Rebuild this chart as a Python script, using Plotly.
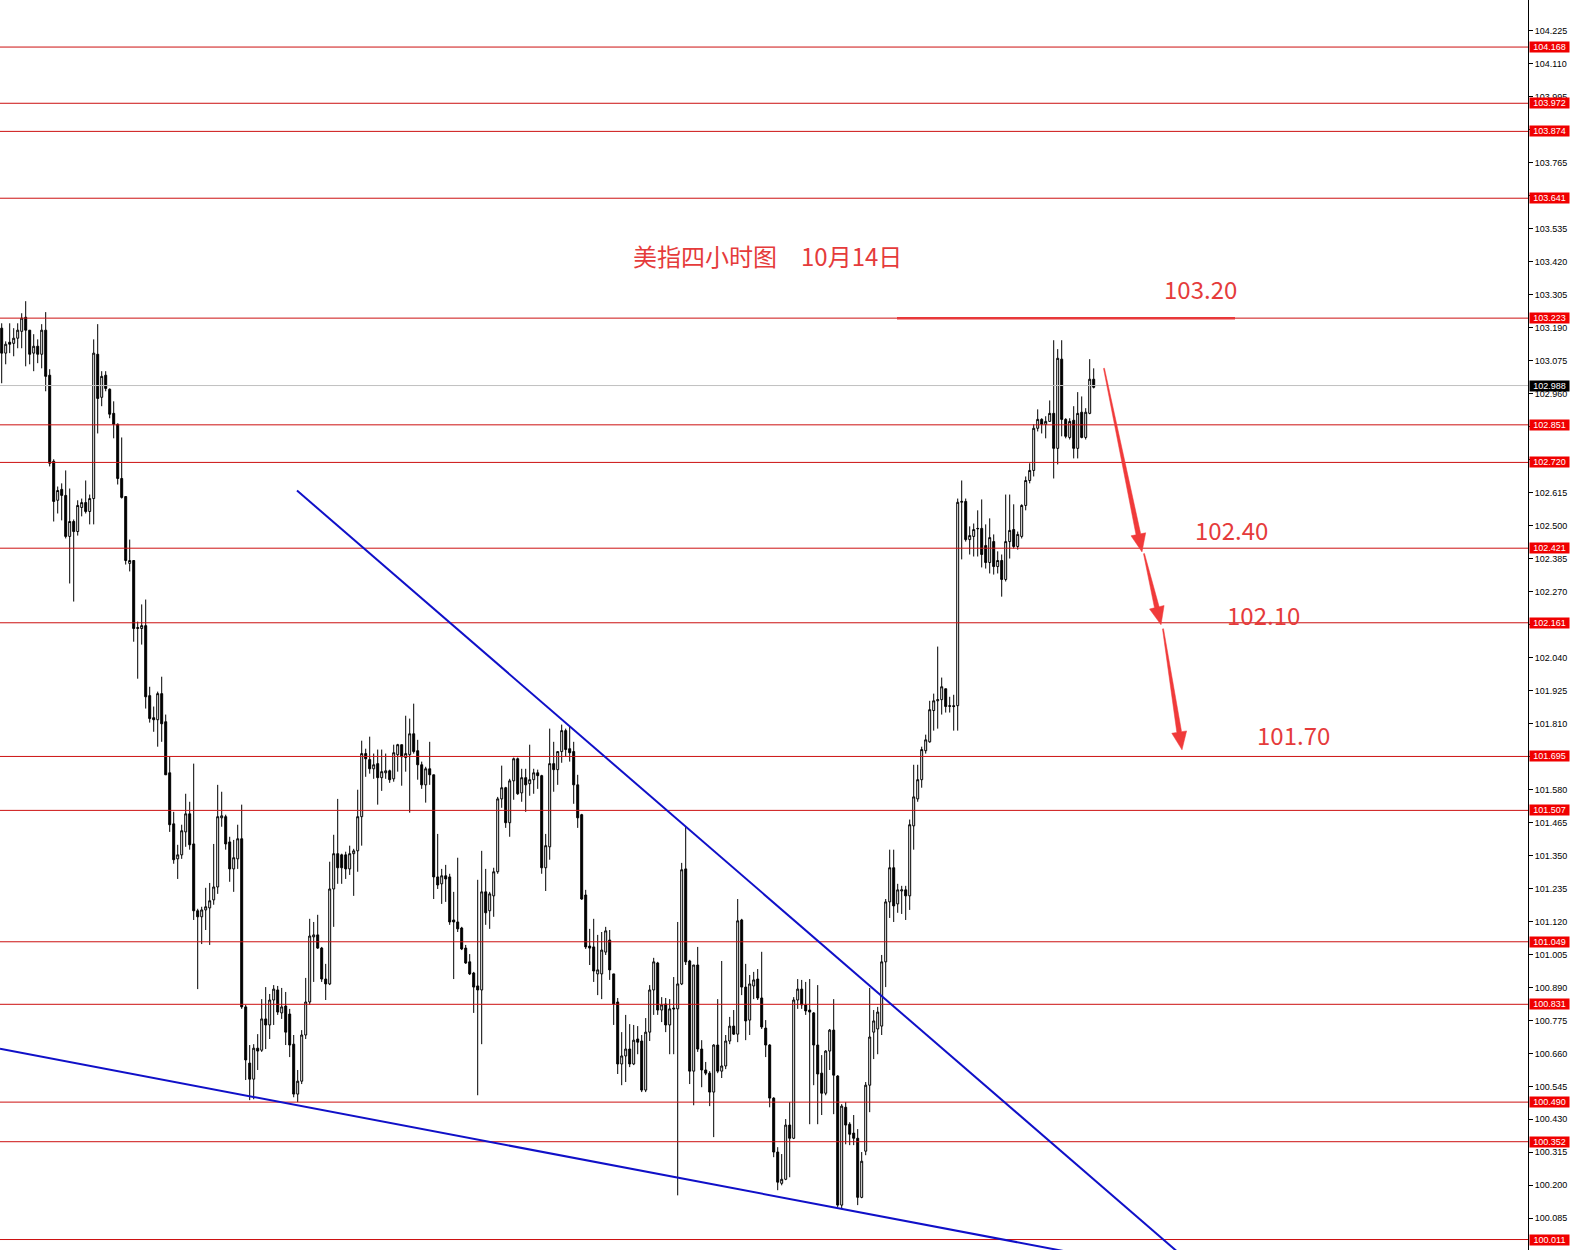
import math
import plotly.graph_objects as go

# ---------------- data ----------------
opens = [
103.188,103.101,103.139,103.135,103.153,103.177,103.226,103.181,103.101,103.125,
103.097,103.181,103.024,102.724,102.588,102.626,102.605,102.462,102.514,102.479,
102.563,102.580,102.549,102.594,103.097,102.947,103.024,102.975,102.891,102.853,
102.664,102.601,102.368,102.378,102.141,102.141,102.151,101.907,101.830,101.823,
101.914,101.816,101.638,101.460,101.338,101.352,101.432,101.495,101.390,101.157,
101.136,101.160,101.167,101.195,101.240,101.481,101.485,101.397,101.303,101.338,
101.408,100.822,100.626,100.570,100.678,100.671,100.780,100.759,100.846,100.881,
100.801,100.825,100.797,100.692,100.518,100.563,100.724,100.839,101.066,101.073,
101.027,100.919,100.902,101.233,101.356,101.352,101.352,101.303,101.356,101.366,
101.485,101.705,101.684,101.652,101.670,101.621,101.638,101.645,101.617,101.701,
101.736,101.691,101.701,101.774,101.715,101.666,101.596,101.652,101.631,101.275,
101.251,101.279,101.275,101.125,101.118,101.097,101.027,100.979,100.940,100.895,
100.881,101.223,101.157,101.209,101.293,101.547,101.586,101.464,101.610,101.687,
101.568,101.621,101.600,101.614,101.638,101.628,101.307,101.380,101.670,101.649,
101.712,101.785,101.722,101.712,101.596,101.492,101.212,101.034,101.031,100.937,
100.937,101.013,101.055,100.937,100.839,100.623,100.651,100.675,100.623,100.710,
100.703,100.532,100.734,100.881,100.975,100.811,100.832,100.759,100.818,100.815,
100.902,101.303,100.982,100.598,100.968,100.675,100.602,100.591,100.525,100.689,
100.598,100.616,100.703,100.755,100.727,101.125,100.891,100.776,100.895,100.919,
100.853,100.748,100.689,100.504,100.316,100.207,100.221,100.410,100.364,100.846,
100.884,100.829,100.811,100.801,100.689,100.591,100.521,100.668,100.741,100.581,
100.131,100.472,100.413,100.382,100.364,100.158,100.319,100.549,100.734,100.745,
100.755,100.979,101.188,101.307,101.181,101.226,101.230,101.209,101.453,101.547,
101.614,101.715,101.746,101.855,101.889,101.893,101.931,101.872,101.872,101.872,
102.581,102.584,102.451,102.462,102.490,102.490,102.430,102.371,102.444,102.357,
102.378,102.312,102.444,102.486,102.427,102.462,102.570,102.657,102.692,102.839,
102.870,102.853,102.863,102.891,102.769,103.080,102.870,102.807,102.867,102.769,
102.895,102.807,102.891,103.010,
]
highs = [
103.205,103.142,103.205,103.188,103.205,103.240,103.282,103.181,103.167,103.149,
103.202,103.244,103.045,102.731,102.636,102.647,102.692,102.629,102.521,102.588,
102.594,102.657,102.608,103.149,103.202,103.038,103.038,102.978,102.933,102.856,
102.807,102.601,102.451,102.378,102.165,102.225,102.242,101.938,101.869,101.921,
101.973,101.841,101.694,101.502,101.387,101.457,101.565,101.537,101.670,101.164,
101.171,101.237,101.254,101.390,101.596,101.572,101.492,101.415,101.404,101.457,
101.527,100.829,100.689,100.692,100.727,100.849,100.891,100.867,100.898,100.895,
100.888,100.874,100.815,100.724,100.602,100.741,100.923,101.129,101.118,101.143,
101.031,100.972,101.328,101.422,101.547,101.356,101.363,101.384,101.373,101.579,
101.750,101.722,101.764,101.705,101.719,101.719,101.705,101.649,101.736,101.739,
101.736,101.837,101.827,101.879,101.753,101.677,101.659,101.746,101.631,101.425,
101.303,101.317,101.286,101.223,101.342,101.101,101.038,101.006,100.944,101.265,
101.366,101.303,101.223,101.307,101.554,101.663,101.589,101.617,101.691,101.691,
101.652,101.652,101.736,101.652,101.649,101.631,101.425,101.792,101.746,101.712,
101.806,101.792,101.799,101.746,101.631,101.495,101.230,101.094,101.129,101.073,
101.083,101.101,101.090,100.937,100.853,100.734,100.794,100.762,100.759,100.755,
100.724,100.783,100.898,100.993,100.979,100.856,100.853,100.849,100.926,101.118,
101.324,101.450,100.986,100.968,101.031,100.706,100.630,100.598,100.692,100.849,
100.982,100.724,100.787,100.811,101.198,101.129,100.972,100.933,100.944,100.954,
101.014,100.776,100.692,100.507,100.333,100.309,100.431,100.490,100.856,100.919,
100.916,100.909,100.919,100.804,100.898,100.654,100.671,100.745,100.849,100.584,
100.483,100.490,100.420,100.445,100.396,100.316,100.560,100.888,100.811,100.822,
101.003,101.198,101.370,101.370,101.251,101.244,101.244,101.475,101.666,101.666,
101.729,101.771,101.889,101.914,102.078,101.970,101.931,101.903,101.910,102.594,
102.657,102.594,102.497,102.507,102.553,102.591,102.504,102.525,102.469,102.410,
102.399,102.608,102.608,102.574,102.479,102.574,102.671,102.717,102.853,102.905,
102.874,102.881,102.936,103.146,103.115,103.146,102.874,102.874,102.916,102.965,
102.950,102.909,103.080,103.048,
]
lows = [
102.996,103.062,103.101,103.090,103.118,103.118,103.055,103.062,103.038,103.066,
103.048,102.968,102.706,102.514,102.542,102.518,102.455,102.298,102.235,102.465,
102.532,102.542,102.504,102.504,102.821,102.916,102.968,102.874,102.804,102.643,
102.594,102.364,102.340,102.095,101.966,102.085,101.862,101.813,101.781,101.729,
101.746,101.631,101.432,101.321,101.268,101.338,101.380,101.370,101.125,100.884,
101.041,101.090,101.038,101.178,101.216,101.450,101.370,101.258,101.223,101.303,
100.815,100.567,100.497,100.500,100.602,100.665,100.675,100.710,100.759,100.794,
100.780,100.689,100.647,100.507,100.490,100.553,100.710,100.829,100.909,101.024,
100.909,100.846,100.898,101.101,101.251,101.251,101.268,101.282,101.209,101.293,
101.384,101.624,101.635,101.617,101.527,101.575,101.617,101.603,101.607,101.642,
101.593,101.642,101.499,101.705,101.614,101.582,101.534,101.596,101.198,101.233,
101.181,101.188,101.108,100.919,101.083,101.020,100.972,100.933,100.801,100.514,
100.692,101.108,101.094,101.136,101.286,101.516,101.446,101.415,101.544,101.561,
101.537,101.502,101.558,101.565,101.582,101.286,101.226,101.335,101.572,101.596,
101.673,101.694,101.677,101.530,101.446,101.195,101.024,100.968,100.909,100.863,
100.849,101.003,100.916,100.759,100.588,100.549,100.560,100.612,100.619,100.657,
100.525,100.525,100.703,100.794,100.794,100.769,100.734,100.657,100.657,100.165,
100.898,100.968,100.553,100.479,100.665,100.542,100.584,100.476,100.368,100.591,
100.574,100.605,100.692,100.724,100.699,100.863,100.706,100.724,100.849,100.846,
100.745,100.647,100.472,100.298,100.183,100.200,100.218,100.228,100.361,100.815,
100.815,100.794,100.413,100.549,100.413,100.445,100.514,100.602,100.448,100.124,
100.117,100.343,100.340,100.340,100.131,100.155,100.305,100.455,100.640,100.657,
100.724,100.891,101.132,101.118,101.150,101.146,101.125,101.160,101.370,101.537,
101.586,101.705,101.743,101.785,101.792,101.841,101.848,101.848,101.785,101.785,
102.382,102.444,102.399,102.392,102.392,102.354,102.350,102.333,102.329,102.333,
102.252,102.305,102.385,102.420,102.416,102.455,102.553,102.647,102.671,102.828,
102.821,102.804,102.863,102.664,102.713,102.811,102.804,102.800,102.734,102.734,
102.804,102.800,102.888,102.978,
]
closes = [
103.101,103.132,103.132,103.153,103.181,103.223,103.181,103.097,103.125,103.097,
103.181,103.020,102.717,102.584,102.622,102.605,102.462,102.514,102.479,102.570,
102.580,102.549,102.594,103.101,102.943,103.020,102.978,102.888,102.853,102.664,
102.598,102.378,102.378,102.141,102.144,102.151,101.903,101.827,101.823,101.914,
101.809,101.631,101.457,101.335,101.352,101.436,101.495,101.387,101.157,101.136,
101.160,101.171,101.192,101.240,101.485,101.488,101.390,101.303,101.342,101.408,
100.822,100.637,100.570,100.678,100.668,100.780,100.759,100.846,100.884,100.804,
100.822,100.734,100.689,100.518,100.563,100.724,100.839,101.069,101.073,101.027,
100.919,100.902,101.233,101.356,101.307,101.307,101.303,101.356,101.366,101.485,
101.705,101.687,101.652,101.666,101.621,101.642,101.645,101.614,101.708,101.736,
101.694,101.705,101.774,101.712,101.666,101.596,101.652,101.631,101.275,101.247,
101.279,101.268,101.118,101.118,101.094,101.024,100.975,100.937,100.891,100.881,
101.223,101.150,101.216,101.293,101.547,101.586,101.464,101.610,101.687,101.565,
101.621,101.596,101.614,101.638,101.628,101.307,101.384,101.670,101.649,101.712,
101.785,101.719,101.708,101.596,101.481,101.198,101.031,101.027,100.947,100.951,
101.020,101.087,100.951,100.832,100.623,100.651,100.675,100.623,100.706,100.699,
100.532,100.734,100.881,100.979,100.811,100.829,100.759,100.815,100.815,100.902,
101.300,100.979,100.598,100.968,100.675,100.602,100.591,100.525,100.689,100.598,
100.616,100.703,100.755,100.727,101.122,100.891,100.773,100.902,100.916,100.853,
100.752,100.689,100.504,100.316,100.211,100.221,100.410,100.364,100.846,100.884,
100.829,100.808,100.804,100.689,100.588,100.521,100.668,100.741,100.584,100.131,
100.476,100.410,100.378,100.364,100.158,100.284,100.549,100.717,100.773,100.804,
100.979,101.188,101.307,101.174,101.230,101.230,101.209,101.457,101.554,101.614,
101.719,101.753,101.858,101.889,101.893,101.938,101.869,101.870,101.869,102.581,
102.584,102.451,102.465,102.486,102.489,102.399,102.371,102.458,102.357,102.378,
102.312,102.444,102.483,102.427,102.469,102.570,102.657,102.692,102.839,102.870,
102.853,102.863,102.891,102.769,103.083,102.870,102.811,102.863,102.769,102.891,
102.807,102.895,103.010,102.982,
]

level_values = [104.168, 103.972, 103.874, 103.641, 103.223, 102.851, 102.720,
                102.421, 102.161, 101.695, 101.507, 101.049, 100.831, 100.490,
                100.352, 100.011]
last_price = 102.988

tick_labels = ["104.225", "104.110", "103.995", "103.880", "103.765", "103.650",
               "103.535", "103.420", "103.305", "103.190", "103.075", "102.960",
               "102.845", "102.730", "102.615", "102.500", "102.385", "102.270",
               "102.155", "102.040", "101.925", "101.810", "101.695", "101.580",
               "101.465", "101.350", "101.235", "101.120", "101.005", "100.890",
               "100.775", "100.660", "100.545", "100.430", "100.315", "100.200",
               "100.085"]

title_left = "美指四小时图"
title_right = "10月14日"
target_labels = ["103.20", "102.40", "102.10", "101.70"]

# trend lines: (bar index, price) endpoints
upper_trend = [(73.825, 102.622), (293.8, 99.97)]
lower_trend = [(-0.425, 100.676), (265.8, 99.97)]
resistance_seg = [(223.825, 103.223), (308.325, 103.223)]
# arrows: start and tip (bar index, price)
arrows = [((275.575, 103.048), (285.075, 102.408)),
          ((285.575, 102.402), (289.825, 102.154)),
          ((290.325, 102.140), (295.075, 101.718))]

n = min(len(opens), len(highs), len(lows), len(closes))
xs = list(range(n))

# ---------------- layout geometry ----------------
W, H = 1570, 1250
PLOT_W = 1528
X_RANGE = [-0.425, PLOT_W / 4 - 0.425]
Y_RANGE = [99.9745, 104.332]

def to_px(i, p):
    px = (i - X_RANGE[0]) / (X_RANGE[1] - X_RANGE[0]) * PLOT_W
    py = (Y_RANGE[1] - p) / (Y_RANGE[1] - Y_RANGE[0]) * H
    return px, py

def px_paper(px, py):
    return px / PLOT_W, 1 - py / H

fig = go.Figure()
fig.add_trace(go.Candlestick(
    x=xs, open=opens[:n], high=highs[:n], low=lows[:n], close=closes[:n],
    increasing=dict(line=dict(color="black", width=1), fillcolor="white"),
    decreasing=dict(line=dict(color="black", width=1), fillcolor="black"),
    whiskerwidth=0, hoverinfo="skip", showlegend=False,
))

shapes = []
LEVEL_COLOR = "#cc1010"
for v in level_values:
    shapes.append(dict(type="line", xref="paper", x0=0, x1=1, yref="y", y0=v, y1=v,
                       line=dict(color=LEVEL_COLOR, width=1)))
shapes.append(dict(type="line", xref="paper", x0=0, x1=1, yref="y", y0=last_price, y1=last_price,
                   line=dict(color="#c0c0c0", width=1)))
for seg in (upper_trend, lower_trend):
    shapes.append(dict(type="line", xref="x", yref="y", x0=seg[0][0], y0=seg[0][1],
                       x1=seg[1][0], y1=seg[1][1], line=dict(color="#1010c8", width=2)))
shapes.append(dict(type="line", xref="x", yref="y", x0=resistance_seg[0][0], y0=resistance_seg[0][1],
                   x1=resistance_seg[1][0], y1=resistance_seg[1][1], line=dict(color="#e8383a", width=2.5)))

ARROW_COLOR = "#f03a3a"
for (s, t) in arrows:
    x0, y0 = to_px(*s)
    x1, y1 = to_px(*t)
    dx, dy = x1 - x0, y1 - y0
    L = math.hypot(dx, dy)
    ux, uy = dx / L, dy / L
    nx, ny = -uy, ux
    head_len, head_half, w0, w1 = 18, 7.5, 0.5, 2.4
    bx, by = x1 - ux * head_len, y1 - uy * head_len
    pts = [(x0 + nx * w0, y0 + ny * w0), (bx + nx * w1, by + ny * w1),
           (bx + nx * head_half, by + ny * head_half), (x1, y1),
           (bx - nx * head_half, by - ny * head_half), (bx - nx * w1, by - ny * w1),
           (x0 - nx * w0, y0 - ny * w0)]
    pp = [px_paper(a, b) for a, b in pts]
    path = "M " + " L ".join(f"{a:.5f},{b:.5f}" for a, b in pp) + " Z"
    shapes.append(dict(type="path", xref="paper", yref="paper", path=path,
                       fillcolor=ARROW_COLOR, line=dict(color=ARROW_COLOR, width=0.5)))

annotations = []
for v in level_values:
    annotations.append(dict(xref="paper", x=1, xanchor="left", xshift=1, yref="y", y=v,
                            yanchor="middle", text=f"{v:.3f}", showarrow=False,
                            bgcolor="#f00000", width=39, height=10, borderpad=0,
                            font=dict(family="Liberation Sans", size=9, color="white")))
annotations.append(dict(xref="paper", x=1, xanchor="left", xshift=1, yref="y", y=last_price,
                        yanchor="middle", text=f"{last_price:.3f}", showarrow=False,
                        bgcolor="black", width=39, height=10, borderpad=0,
                        font=dict(family="Liberation Sans", size=9, color="white")))

TXT_COLOR = "#e53b3b"
TXT_FONT = "Noto Sans CJK SC"
def add_text(text, cx, cy, size):
    px, py = px_paper(cx, cy)
    annotations.append(dict(xref="paper", yref="paper", x=px, y=py, xanchor="center",
                            yanchor="middle", text=text, showarrow=False,
                            font=dict(family=TXT_FONT, size=size, color=TXT_COLOR)))

add_text(title_left, 705, 256, 24)
add_text(title_right, 851, 256, 24)
label_pos = [(1200, 289), (1231, 529), (1263, 614), (1293, 734)]
for txt, (cx, cy) in zip(target_labels, label_pos):
    add_text(txt, cx, cy, 24)

fig.update_layout(
    width=W, height=H,
    margin=dict(l=0, r=W - PLOT_W, t=0, b=0),
    paper_bgcolor="white", plot_bgcolor="white",
    shapes=shapes, annotations=annotations,
    showlegend=False,
    xaxis=dict(range=X_RANGE, visible=False, rangeslider=dict(visible=False),
               showgrid=False, zeroline=False, fixedrange=True),
    yaxis=dict(range=Y_RANGE, side="right", showgrid=False, zeroline=False,
               showline=True, linecolor="black", linewidth=1,
               ticks="outside", ticklen=4, tickcolor="black", tickwidth=1,
               tickvals=[float(t) for t in tick_labels], ticktext=tick_labels,
               tickfont=dict(family="Liberation Sans", size=9, color="black"),
               fixedrange=True),
    boxgap=0.3,
)

fig.write_html("out.html", config={"displayModeBar": False},
               post_script="document.body.style.margin='0';document.body.style.overflow='hidden';")
